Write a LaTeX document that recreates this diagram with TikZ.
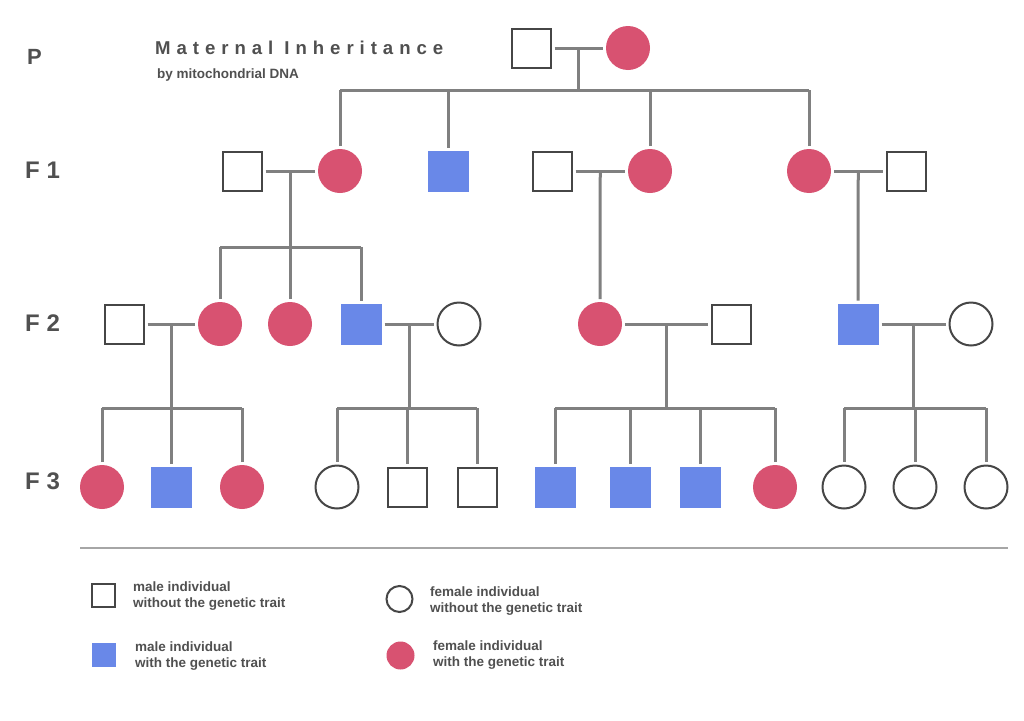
\documentclass[tikz,border=0pt]{standalone}
\usepackage{fontspec}
\setmainfont{Liberation Sans}
\definecolor{traitred}{RGB}{216,82,113}
\definecolor{traitblue}{RGB}{105,136,232}
\definecolor{linegray}{RGB}{128,128,128}
\definecolor{rimgray}{RGB}{70,70,70}
\definecolor{textgray}{RGB}{80,80,80}

\begin{document}
\begin{tikzpicture}[x=1pt,y=-1pt,
		male/.style={rectangle,draw=rimgray,line width=2pt,fill=white,minimum size=39pt,inner sep=0pt,outer sep=4pt},
		malet/.style={rectangle,fill=traitblue,minimum size=41pt,inner sep=0pt,outer sep=3pt},
		female/.style={circle,draw=rimgray,line width=2pt,fill=white,minimum size=43pt,inner sep=0pt,outer sep=4pt},
		femalet/.style={circle,fill=traitred,minimum size=44pt,inner sep=0pt,outer sep=3pt},
		link/.style={draw=linegray,line width=3pt},
		gen/.style={font=\bfseries\fontsize{24}{24}\selectfont,text=textgray,inner sep=0pt,anchor=base west},
		keytext/.style={font=\bfseries\fontsize{13.5}{15.5}\selectfont,text=textgray,align=left,inner sep=0pt,anchor=west}]
		\def\barP{90}
		\def\barA{247}
		\def\barF{408}
		\useasboundingbox[fill=white] (0,0) rectangle (1024,720);

		% generation labels
		\node[gen,font=\bfseries\fontsize{22}{22}\selectfont] (gp) at (27,64) {P};
		\node[gen] (g1) at (25,178) {F 1};
		\node[gen] (g2) at (25,331) {F 2};
		\node[gen] (g3) at (25,489) {F 3};

		% title
		\node[inner sep=0pt,anchor=base west,text=textgray,font=\bfseries\fontsize{18.6}{20}\selectfont\addfontfeature{LetterSpace=32}] (title) at (155,54) {Maternal Inheritance};
		\node[inner sep=0pt,anchor=base west,text=textgray,font=\bfseries\fontsize{13.5}{15}\selectfont] (subtitle) at (157,78) {by mitochondrial DNA};

		% P
		\node[male] (p-m) at (531,48) {};
		\node[femalet] (p-f) at (628,48) {};
		\draw[link] (p-m) -- coordinate (pm) (p-f);
		\draw[link] (pm) -- (pm |- 0,\barP);
		\draw[link] (340,\barP) -- (809,\barP);

		% F 1
		\node[male] (a-m) at (242,171) {};
		\node[femalet] (a-f) at (340,171) {};
		\node[malet] (b) at (448,171) {};
		\node[male] (c-m) at (552,171) {};
		\node[femalet] (c-f) at (650,171) {};
		\node[femalet] (d-f) at (809,171) {};
		\node[male] (d-m) at (906,171) {};
		\foreach \n in {a-f,b,c-f,d-f}
		{
			\draw[link] (\n) -- (\n |- 0,\barP);
		}
		\draw[link] (a-m) -- coordinate (am) (a-f);
		\draw[link] (c-m) -- coordinate (cm) (c-f);
		\draw[link] (d-f) -- coordinate (dm) (d-m);
		\draw[link] (am) -- (am |- 0,\barA);

		% F 2
		\node[male] (e-m) at (124,324) {};
		\node[femalet] (e-f) at (220,324) {};
		\node[femalet] (f) at (290,324) {};
		\node[malet] (g-m) at (361,324) {};
		\node[female] (g-f) at (459,324) {};
		\node[femalet] (h-f) at (600,324) {};
		\node[male] (h-m) at (731,324) {};
		\node[malet] (i-m) at (858,324) {};
		\node[female] (i-f) at (971,324) {};
		\draw[link] (e-f |- 0,\barA) -- (g-m |- 0,\barA);
		\foreach \n in {e-f,f,g-m}
		{
			\draw[link] (\n) -- (\n |- 0,\barA);
		}
		\draw[link] (cm) -- (h-f);
		\draw[link] (dm) -- (i-m);
		\draw[link] (e-m) -- coordinate (em) (e-f);
		\draw[link] (g-m) -- coordinate (gm) (g-f);
		\draw[link] (h-f) -- coordinate (hm) (h-m);
		\draw[link] (i-m) -- coordinate (im) (i-f);
		\foreach \m in {em,gm,hm,im}
		{
			\draw[link] (\m) -- (\m |- 0,\barF);
		}

		% F 3
		\foreach \x/\n/\s in {102/k1/femalet,171/k2/malet,242/k3/femalet,
			337/k4/female,407/k5/male,477/k6/male,
			555/k7/malet,630/k8/malet,700/k9/malet,775/k10/femalet,
			844/k11/female,915/k12/female,986/k13/female}
		{
			\node[\s] (\n) at (\x,487) {};
			\draw[link] (\n) -- (\n |- 0,\barF);
		}
		\draw[link] (k1 |- 0,\barF) -- (k3 |- 0,\barF);
		\draw[link] (k4 |- 0,\barF) -- (k6 |- 0,\barF);
		\draw[link] (k7 |- 0,\barF) -- (k10 |- 0,\barF);
		\draw[link] (k11 |- 0,\barF) -- (k13 |- 0,\barF);

		% key
		\draw[draw=linegray!70,line width=1.5pt] (80,548) -- (1008,548);
		\node[male,minimum size=23pt] (key1) at (103.5,595) {};
		\node[keytext] (key1t) at (133,596) {male individual\\without the genetic trait};
		\node[female,minimum size=26pt] (key2) at (399.5,599) {};
		\node[keytext] (key2t) at (430,601) {female individual\\without the genetic trait};
		\node[malet,minimum size=24pt] (key3) at (103.5,655) {};
		\node[keytext] (key3t) at (135,656) {male individual\\with the genetic trait};
		\node[femalet,minimum size=28pt] (key4) at (400.5,655.5) {};
		\node[keytext] (key4t) at (433,655) {female individual\\with the genetic trait};
	\end{tikzpicture}
\end{document}
